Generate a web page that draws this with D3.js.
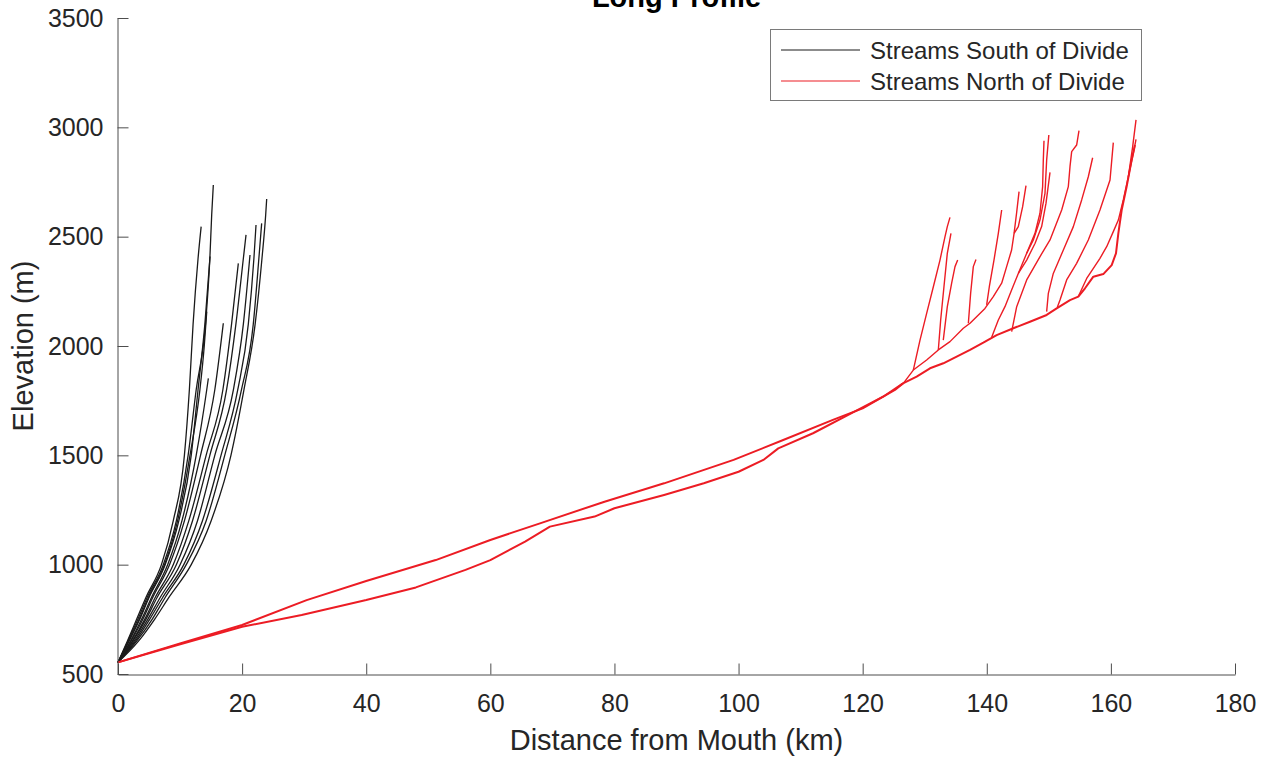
<!DOCTYPE html>
<html>
<head>
<meta charset="utf-8">
<script src="https://cdn.jsdelivr.net/npm/d3@7"></script>
<style>
  html, body { margin: 0; padding: 0; background: #fff; }
  svg { display: block; font-family: "Liberation Sans", Arial, Helvetica, sans-serif; }
</style>
</head>
<body>
<svg id="chart" width="1268" height="759"></svg>
<script>
// ---- Data (distance km, elevation m) ----
const titleText = "Long Profile";
const xLabel = "Distance from Mouth (km)";
const yLabel = "Elevation (m)";
const seriesNames = ["Streams South of Divide", "Streams North of Divide"];
const xTicks = [0, 20, 40, 60, 80, 100, 120, 140, 160, 180];
const yTicks = [500, 1000, 1500, 2000, 2500, 3000, 3500];

// Streams south of divide (black)
const south = [
  [[0,553],[1.5,650],[3.0,750],[4.5,850],[7.0,1000],[8.9,1200],[10.7,1500],[11.5,1800],[12.1,2100],[12.9,2400],[13.4,2546]],
  [[0,553],[1.6,650],[3.2,750],[4.7,850],[7.3,1000],[9.4,1200],[11.3,1500],[12.6,1800],[14.1,2100],[14.8,2400],[15.1,2600],[15.36,2736]],
  [[0,553],[1.8,650],[3.5,750],[5.0,850],[7.6,1000],[9.8,1200],[11.8,1500],[12.9,1800],[14.0,2100],[14.83,2409]],
  [[0,553],[1.7,650],[3.4,750],[4.9,850],[7.5,1000],[9.6,1200],[11.6,1500],[13.2,1800],[13.9,2000],[14.3,2157]],
  [[0,553],[2.0,650],[3.8,750],[5.4,850],[8.0,1000],[10.3,1200],[12.6,1500],[14.3,1800],[14.56,1852]],
  [[0,553],[2.1,650],[4.0,750],[5.6,850],[8.3,1000],[10.7,1200],[13.3,1500],[15.6,1800],[16.97,2104]],
  [[0,553],[2.3,650],[4.3,750],[6.0,850],[8.9,1000],[11.4,1200],[14.2,1500],[16.9,1800],[18.3,2100],[19.39,2378]],
  [[0,553],[2.4,650],[4.5,750],[6.3,850],[9.4,1000],[12.0,1200],[14.8,1500],[17.5,1800],[19.0,2100],[20.2,2400],[20.63,2508]],
  [[0,553],[2.6,650],[4.8,750],[6.8,850],[10.0,1000],[12.8,1200],[15.6,1500],[18.6,1800],[20.2,2100],[21.27,2416]],
  [[0,553],[2.8,650],[5.1,750],[7.2,850],[10.6,1000],[13.6,1200],[16.6,1500],[19.3,1800],[21.0,2100],[21.9,2400],[22.24,2553]],
  [[0,553],[3.0,650],[5.5,750],[7.6,850],[11.0,1000],[14.2,1200],[17.2,1500],[19.9,1800],[21.8,2100],[22.7,2400],[23.15,2561]],
  [[0,553],[3.3,650],[5.9,750],[8.2,850],[11.8,1000],[15.0,1200],[18.2,1500],[20.3,1800],[22.1,2100],[23.2,2400],[23.8,2600],[23.96,2672]]
];

// Streams north of divide: shared trunks (red, drawn heavier)
const northTrunks = [
  [[0,553],[10,640],[20,724],[30.4,838],[40,925],[51.2,1021],[60,1113],[68,1189],[78.4,1288],[88,1372],[99.2,1479],[107.2,1570],[115.2,1662],[120,1715],[125.2,1799],[126.5,1829]],
  [[0,553],[9.6,633],[20,716],[29.6,770],[40,838],[48,896],[56,976],[60,1021],[65.6,1105],[69.6,1174],[76.8,1220],[80,1258],[88,1319],[94.4,1372],[100,1425],[104,1479],[106.4,1532],[112,1601],[117.6,1684],[123.3,1768],[124.9,1799],[126.5,1829],[128.7,1860],[130.85,1898],[133,1921],[135.15,1951],[137.3,1982],[139.44,2015],[141.59,2050],[144.28,2081],[146.96,2111],[149.65,2142],[151.26,2172],[153.41,2210],[154.75,2226],[155.83,2264],[157.17,2317],[158.78,2329],[160.13,2370],[160.82,2424],[161.2,2515],[161.74,2622],[162.54,2729],[163.35,2851],[163.88,2919]]
];

// Streams north of divide: tributary headwaters
const northTribs = [
  [[126.55,1829],[128.16,1890],[130.31,1936],[132.19,1982],[134.07,2020],[136.22,2081],[137.3,2104],[139.71,2172],[141.05,2226],[142.4,2287],[143.2,2363],[144.0,2439],[144.4,2515],[144.8,2607],[145.2,2706]],
  [[144.4,2515],[145.08,2546],[145.78,2637],[146.32,2733]],
  [[128.16,1890],[129.24,2027],[130.31,2149],[131.39,2271],[132.46,2393],[133.27,2500],[133.64,2546],[134.07,2588]],
  [[132.19,1982],[132.57,2119],[133.1,2271],[133.64,2424],[134.23,2515]],
  [[132.99,2027],[133.64,2180],[134.34,2287],[134.88,2363],[135.31,2393]],
  [[137.03,2104],[137.4,2241],[137.83,2363],[138.26,2396]],
  [[139.98,2188],[140.41,2271],[141.16,2393],[141.86,2515],[142.4,2622]],
  [[140.79,2040],[141.86,2119],[142.93,2180],[144.0,2256],[145.08,2332],[146.43,2424],[147.77,2515],[148.57,2607],[149.0,2729],[149.11,2851],[149.22,2939]],
  [[146.43,2424],[147.5,2485],[148.57,2576],[149.38,2698],[149.65,2851],[150.0,2965]],
  [[145.08,2332],[146.43,2393],[147.77,2469],[148.84,2546],[149.54,2652],[150.19,2794]],
  [[144.01,2066],[144.82,2180],[146.43,2302],[148.58,2409],[150.19,2485],[152.07,2622],[153.14,2729],[153.41,2820],[153.68,2889],[154.48,2919],[154.86,2985]],
  [[149.65,2157],[149.92,2241],[150.72,2332],[152.34,2439],[153.95,2546],[155.29,2668],[156.36,2774],[157.06,2861]],
  [[151.37,2177],[151.8,2210],[152.87,2302],[154.48,2378],[156.36,2485],[158.24,2622],[159.86,2759],[160.39,2930]],
  [[154.75,2226],[156.1,2309],[157.17,2355],[158.24,2401],[159.32,2454],[160.39,2523],[161.2,2576],[162.0,2668],[162.81,2774],[163.51,2912],[164.05,3034]],
  [[162.81,2774],[163.6,2880],[164.05,2945]]
];

// ---- Drawing ----
const svg = d3.select("#chart");
const mLeft = 118, mRight = 1235, mTop = 18, mBottom = 674;
const x = d3.scaleLinear().domain([0, 180]).range([mLeft, mRight]);
const y = d3.scaleLinear().domain([500, 3500]).range([mBottom, mTop]);
const axisColor = "#4d4d4d";
const textColor = "#262626";
const black = "#1a1a1a";
const red = "#ec1c24";

const line = d3.line().x(d => x(d[0])).y(d => y(d[1]));
const smoothLine = d3.line().x(d => x(d[0])).y(d => y(d[1])).curve(d3.curveMonotoneX);

const plot = svg.append("g");
plot.selectAll("path.south").data(south).join("path")
  .attr("class", "south").attr("d", smoothLine)
  .attr("fill", "none").attr("stroke", black).attr("stroke-width", 1.3)
  .attr("stroke-linejoin", "round");
plot.selectAll("path.ntrunk").data(northTrunks).join("path")
  .attr("class", "ntrunk").attr("d", line)
  .attr("fill", "none").attr("stroke", red).attr("stroke-width", 2)
  .attr("stroke-linejoin", "round");
plot.selectAll("path.ntrib").data(northTribs).join("path")
  .attr("class", "ntrib").attr("d", line)
  .attr("fill", "none").attr("stroke", red).attr("stroke-width", 1.4)
  .attr("stroke-linejoin", "round");

// Axes (ticks pointing inward)
const fmt = d3.format("d");
const xAxis = d3.axisBottom(x).tickValues(xTicks).tickFormat(fmt).tickSizeInner(-11).tickSizeOuter(0).tickPadding(20);
const yAxis = d3.axisLeft(y).tickValues(yTicks).tickFormat(fmt).tickSizeInner(-11).tickSizeOuter(0).tickPadding(14);

const gx = svg.append("g").attr("transform", `translate(0,${mBottom + 0.5})`).call(xAxis);
const gy = svg.append("g").attr("transform", `translate(${mLeft - 0.5},0)`).call(yAxis);
[gx, gy].forEach(g => {
  g.select(".domain").attr("stroke", axisColor).attr("stroke-width", 1);
  g.selectAll(".tick line").attr("stroke", axisColor).attr("stroke-width", 1);
  g.selectAll(".tick text").attr("fill", textColor)
    .style("font-size", "25px").style("font-family", '"Liberation Sans", Arial, sans-serif');
});

// Labels
svg.append("text").attr("x", (mLeft + mRight) / 2).attr("y", 750)
  .attr("text-anchor", "middle").attr("fill", textColor)
  .style("font-size", "29px").text(xLabel);
svg.append("text").attr("transform", `translate(33,346) rotate(-90)`)
  .attr("text-anchor", "middle").attr("fill", textColor)
  .style("font-size", "29px").text(yLabel);
svg.append("text").attr("x", (mLeft + mRight) / 2).attr("y", 7)
  .attr("text-anchor", "middle").attr("fill", "#000")
  .style("font-size", "29px").style("font-weight", "bold").text(titleText);

// Legend
const lg = svg.append("g");
lg.append("rect").attr("x", 770.5).attr("y", 29.5).attr("width", 371).attr("height", 71)
  .attr("fill", "#fff").attr("stroke", "#7a7a7a").attr("stroke-width", 1);
const legendColors = [black, red];
seriesNames.forEach((name, i) => {
  const yy = 50 + i * 31;
  lg.append("line").attr("x1", 781).attr("x2", 860).attr("y1", yy).attr("y2", yy)
    .attr("stroke", legendColors[i]).attr("stroke-width", 1.2);
  lg.append("text").attr("x", 870).attr("y", yy + 8.5).attr("fill", textColor)
    .style("font-size", "24px").text(name);
});
</script>
</body>
</html>
